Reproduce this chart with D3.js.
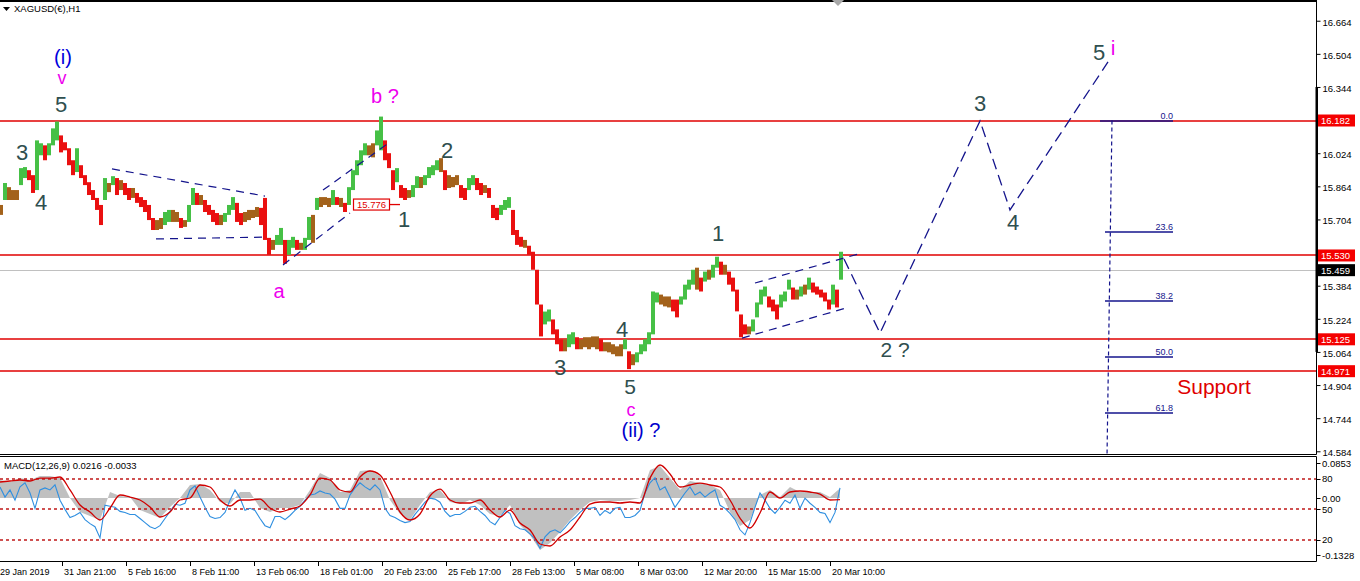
<!DOCTYPE html>
<html><head><meta charset="utf-8">
<script src="https://cdn.jsdelivr.net/npm/d3@7"></script>
<style>
body{margin:0;background:#fff;overflow:hidden}
svg{display:block;font-family:"Liberation Sans",Arial,sans-serif}
</style>
</head><body><svg id="c" width="1360" height="581"></svg>
<script>
// ---------------- DATA ----------------
const symbolTitle = "XAGUSD(€),H1";
const macdTitle = "MACD(12,26,9) 0.0216 -0.0033";
const barStepHours = 4;   // each sampled bar covers 4 hourly bars
const priceHigh = [
15.774,15.880,15.860,15.846,15.846,15.952,15.957,15.942,15.918,16.086,
16.072,16.062,16.072,16.144,16.177,16.110,16.077,16.048,15.990,16.048,
15.966,15.918,15.884,15.846,15.808,15.774,15.904,15.880,15.913,15.904,
15.894,15.880,15.856,15.856,15.832,15.812,15.798,15.774,15.711,15.701,
15.711,15.740,15.750,15.750,15.740,15.711,15.701,15.774,15.856,15.832,
15.822,15.798,15.774,15.750,15.735,15.726,15.735,15.774,15.812,15.784,
15.735,15.740,15.750,15.750,15.764,15.760,15.808,15.615,15.605,15.629,
15.663,15.605,15.605,15.620,15.605,15.591,15.615,15.716,15.726,15.808,
15.812,15.812,15.808,15.846,15.812,15.808,15.784,15.860,15.942,15.990,
16.038,16.072,16.062,16.072,16.134,16.201,16.086,16.024,15.942,15.952,
15.870,15.856,15.846,15.870,15.913,15.909,15.918,15.957,15.966,15.990,
16.000,15.942,15.918,15.909,15.918,15.870,15.856,15.904,15.918,15.904,
15.880,15.870,15.856,15.774,15.760,15.774,15.798,15.812,15.750,15.653,
15.620,15.605,15.577,15.548,15.461,15.293,15.259,15.269,15.221,15.173,
15.125,15.125,15.149,15.159,15.135,15.125,15.135,15.135,15.139,15.139,
15.125,15.111,15.111,15.101,15.091,15.101,15.125,15.067,15.053,15.062,
15.101,15.125,15.159,15.356,15.351,15.341,15.332,15.332,15.317,15.317,
15.332,15.389,15.413,15.461,15.471,15.423,15.452,15.461,15.485,15.524,
15.500,15.485,15.452,15.423,15.365,15.245,15.197,15.187,15.221,15.303,
15.365,15.380,15.332,15.317,15.293,15.341,15.356,15.413,15.375,15.365,
15.380,15.389,15.423,15.399,15.380,15.365,15.351,15.317,15.389,15.365,15.548];
const priceLow = [
15.726,15.798,15.798,15.798,15.798,15.870,15.904,15.894,15.832,15.846,
16.014,15.990,16.014,16.062,16.086,16.028,16.038,15.966,15.918,15.933,
15.904,15.870,15.822,15.798,15.750,15.677,15.798,15.836,15.870,15.822,
15.846,15.822,15.798,15.808,15.784,15.764,15.740,15.701,15.653,15.653,
15.658,15.677,15.692,15.692,15.692,15.663,15.668,15.692,15.774,15.774,
15.774,15.740,15.726,15.692,15.677,15.677,15.692,15.726,15.750,15.692,
15.677,15.692,15.701,15.711,15.716,15.677,15.605,15.533,15.557,15.581,
15.581,15.490,15.533,15.567,15.557,15.557,15.557,15.605,15.591,15.750,
15.764,15.774,15.764,15.774,15.774,15.764,15.740,15.774,15.846,15.918,
15.966,16.014,16.014,16.004,16.062,16.038,15.990,15.952,15.846,15.884,
15.808,15.798,15.808,15.812,15.856,15.856,15.870,15.904,15.918,15.942,
15.933,15.846,15.856,15.860,15.870,15.808,15.798,15.846,15.870,15.846,
15.822,15.832,15.808,15.711,15.701,15.726,15.750,15.760,15.629,15.581,
15.572,15.567,15.533,15.461,15.293,15.139,15.197,15.211,15.149,15.101,
15.067,15.067,15.087,15.101,15.077,15.077,15.087,15.077,15.087,15.077,
15.067,15.067,15.062,15.053,15.043,15.043,15.077,14.981,15.000,15.014,
15.053,15.067,15.101,15.149,15.303,15.293,15.284,15.279,15.260,15.231,
15.293,15.317,15.365,15.389,15.365,15.356,15.404,15.413,15.423,15.471,
15.437,15.437,15.389,15.356,15.260,15.135,15.149,15.149,15.163,15.231,
15.293,15.332,15.279,15.260,15.221,15.279,15.308,15.365,15.317,15.317,
15.332,15.341,15.365,15.351,15.341,15.327,15.308,15.269,15.293,15.279,15.413];
const lastPrice = 15.459;
const levelLines = [16.182, 15.530, 15.125, 14.971];
const priceTicks = [16.664,16.504,16.344,16.024,15.864,15.704,15.384,15.224,15.064,14.904,14.744,14.584];
const hourTicks = [-2,62,126,190,254,318,382,446,510,574,638,702,766,830];
const dateLabels = ["29 Jan 2019","31 Jan 21:00","5 Feb 16:00","8 Feb 11:00","13 Feb 06:00","18 Feb 01:00","20 Feb 23:00","25 Feb 17:00","28 Feb 13:00","5 Mar 08:00","8 Mar 03:00","12 Mar 20:00","15 Mar 15:00","20 Mar 10:00"];

// MACD panel (sampled every 10 hours)
const macdStepHours = 10;
const macdHist = [
0.0395,0.0351,0.0438,0.0395,0.0482,0.0482,0.0438,0.0002,-0.0303,-0.0390,
-0.0477,0.0133,0.0046,0.0024,-0.0260,-0.0347,-0.0434,-0.0194,0.0002,0.0286,
0.0307,0.0177,-0.0085,-0.0129,0.0133,0.0133,-0.0216,-0.0303,-0.0216,-0.0216,
-0.0150,0.0177,0.0547,0.0438,0.0133,0.0177,0.0591,0.0613,0.0482,-0.0041,
-0.0347,-0.0477,-0.0150,0.0133,0.0177,-0.0085,-0.0129,-0.0041,-0.0150,-0.0347,
-0.0390,-0.0150,-0.0587,-0.0805,-0.1132,-0.0979,-0.0739,-0.0477,-0.0260,-0.0085,
-0.0041,-0.0063,-0.0063,-0.0041,0.0002,0.0613,0.0700,0.0438,0.0177,0.0373,
0.0329,0.0286,0.0177,-0.0303,-0.0608,-0.0477,0.0068,0.0177,0.0024,0.0242,
0.0133,0.0133,0.0133,0.0024,0.0216];
const macdSignal = [
0.0351,0.0373,0.0395,0.0373,0.0438,0.0438,0.0460,0.0177,-0.0150,-0.0303,
-0.0477,-0.0216,0.0068,0.0024,-0.0041,-0.0194,-0.0412,-0.0303,-0.0041,0.0002,
0.0286,0.0242,-0.0041,-0.0172,-0.0041,-0.0041,-0.0020,-0.0216,-0.0303,-0.0238,
-0.0172,0.0068,0.0438,0.0395,0.0177,0.0133,0.0460,0.0591,0.0504,0.0133,
-0.0303,-0.0477,-0.0347,0.0046,0.0198,-0.0041,-0.0107,-0.0107,-0.0041,-0.0260,
-0.0412,-0.0260,-0.0543,-0.0696,-0.1001,-0.1045,-0.0848,-0.0696,-0.0412,-0.0129,
-0.0085,-0.0085,-0.0107,-0.0085,-0.0107,0.0438,0.0722,0.0526,0.0242,0.0286,
0.0329,0.0286,0.0242,-0.0041,-0.0434,-0.0652,-0.0325,0.0133,0.0002,0.0133,
0.0155,0.0133,0.0089,-0.0041,-0.0033];
// oscillator 0..100 (sampled every 5 hours)
const oscStepHours = 5;
const oscValues = [
72,62,69,59,72,76,66,51,69,71,69,74,59,50,42,44,47,40,36,33,
22,54,53,52,48,47,45,45,41,37,33,31,34,41,48,55,54,56,69,73,
62,52,43,41,42,47,59,69,61,49,51,49,41,34,32,43,43,40,44,49,
53,59,64,65,68,66,65,60,51,51,64,71,76,72,69,74,69,51,44,42,
39,37,38,45,51,57,61,60,57,48,43,45,45,48,52,53,48,44,38,35,
42,49,46,34,31,30,26,21,12,23,28,30,27,32,38,42,47,51,51,52,
44,49,46,51,52,42,42,44,49,66,76,81,69,72,62,52,59,66,72,64,
67,62,66,69,54,51,46,40,30,25,37,52,66,59,51,46,52,59,56,64,
51,61,56,52,47,46,37,47,71];
const oscLevels = [80, 50, 20];

// Fibonacci retracement
const fibTop = 16.182, fibBottom = 13.894;
const fibLevels = [0.0, 23.6, 38.2, 50.0, 61.8];

// annotations (hour, price, font size)
const waveLabels = [
 {t:"(i)",h:63,p:16.455,c:"#0000dd",s:20},
 {t:"v",h:62,p:16.360,c:"#ee00ee",s:18},
 {t:"5",h:61,p:16.223,c:"#2f4f4f",s:22},
 {t:"3",h:22,p:15.991,c:"#2f4f4f",s:22},
 {t:"4",h:41,p:15.750,c:"#2f4f4f",s:22},
 {t:"b ?",h:385,p:16.267,c:"#ee00ee",s:20},
 {t:"a",h:279,p:15.325,c:"#ee00ee",s:20},
 {t:"1",h:404,p:15.668,c:"#2f4f4f",s:22},
 {t:"2",h:447,p:16.001,c:"#2f4f4f",s:22},
 {t:"3",h:560,p:14.953,c:"#2f4f4f",s:22},
 {t:"4",h:622,p:15.136,c:"#2f4f4f",s:22},
 {t:"5",h:630,p:14.861,c:"#2f4f4f",s:21},
 {t:"c",h:631,p:14.754,c:"#ee00ee",s:18},
 {t:"(ii) ?",h:641,p:14.654,c:"#0000cc",s:20},
 {t:"1",h:718,p:15.600,c:"#2f4f4f",s:22},
 {t:"2 ?",h:895,p:15.040,c:"#2f4f4f",s:21},
 {t:"3",h:980,p:16.228,c:"#2f4f4f",s:22},
 {t:"4",h:1013,p:15.653,c:"#2f4f4f",s:22},
 {t:"5",h:1099,p:16.474,c:"#2f4f4f",s:22},
 {t:"i",h:1113,p:16.498,c:"#ee00ee",s:21},
 {t:"Support",h:1214,p:14.861,c:"#e00000",s:21}
];
const projection = [[844,15.513],[880,15.155],[980,16.180],[1010,15.750],[1108,16.465]];
const channels = [
 [[112,15.948],[265,15.817]],
 [[156,15.610],[268,15.619]],
 [[283,15.484],[350,15.735]],
 [[323,15.846],[390,16.078]],
 [[742,15.131],[846,15.276]],
 [[755,15.397],[862,15.542]]
];
const priceTag = {h0:353,h1:389,hEnd:400,p:15.776,t:"15.776"};

// ---------------- DRAW ----------------
const svg = d3.select("#c");
const right = 1316.5;
const lineRed = "#e00000";
const x = d3.scaleLinear().domain([0,1316]).range([0,1316]);
const y = d3.scaleLinear().domain([14.5709,16.7545]).range([454,2]);
const yM = d3.scaleLinear().domain([-0.1328,0.0853]).range([559,459]);
const yO = d3.scaleLinear().domain([0,100]).range([560.4,458.3]);

const defs = svg.append("defs");
defs.append("clipPath").attr("id","cm").append("rect").attr("x",0).attr("y",2).attr("width",1316).attr("height",452);
defs.append("clipPath").attr("id","cd").append("rect").attr("x",0).attr("y",457).attr("width",1316).attr("height",104);

const main = svg.append("g").attr("clip-path","url(#cm)");
const navy = "#14148c";

// level lines
levelLines.forEach(v=>{
  const yy = Math.round(y(v));
  main.append("line").attr("x1",0).attr("x2",right).attr("y1",yy).attr("y2",yy)
    .style("stroke",lineRed).style("stroke-width","1.4px");
});
main.append("line").attr("x1",0).attr("x2",right)
  .attr("y1",Math.round(y(lastPrice))+0.5).attr("y2",Math.round(y(lastPrice))+0.5)
  .style("stroke","#c0c0c0");

// bars
const bars = priceHigh.map((hi,i)=>({h:barStepHours*i+1, hi, lo:priceLow[i]}));
bars.forEach((b,i)=>{
  const m=(b.hi+b.lo)/2, pm=i?(bars[i-1].hi+bars[i-1].lo)/2:m, d=m-pm;
  b.c = d>0.011?"#46c046":(d<-0.011?"#ea1010":"#a3621b");
});
main.selectAll("rect.bar").data(bars).join("rect")
  .attr("x",d=>x(d.h)-2).attr("width",4)
  .attr("y",d=>y(d.hi)).attr("height",d=>Math.max(1.5,y(d.lo)-y(d.hi)))
  .attr("fill",d=>d.c);

// channels
const ln = d3.line().x(d=>x(d[0])).y(d=>y(d[1]));
main.selectAll("path.ch").data(channels).join("path")
  .attr("d",ln).attr("fill","none").attr("stroke",navy).attr("stroke-width",1.2)
  .attr("stroke-dasharray","8,6");
main.append("path").datum(projection).attr("d",ln).attr("fill","none")
  .attr("stroke",navy).attr("stroke-width",1.3).attr("stroke-dasharray","11,6");

// price tag 15.776
const pt = main.append("g");
pt.append("line").attr("x1",x(priceTag.h1)).attr("x2",x(priceTag.hEnd))
  .attr("y1",y(priceTag.p)).attr("y2",y(priceTag.p)).style("stroke",lineRed).style("stroke-width","1.3px");
pt.append("rect").attr("x",x(priceTag.h0)+0.5).attr("y",y(priceTag.p)-5.5)
  .attr("width",x(priceTag.h1)-x(priceTag.h0)).attr("height",11)
  .attr("fill","#fff").style("stroke",lineRed).style("stroke-width","1.2px");
pt.append("text").attr("x",(x(priceTag.h0)+x(priceTag.h1))/2+0.5).attr("y",y(priceTag.p)+3.5)
  .attr("text-anchor","middle").attr("font-size","9.5px").attr("fill",lineRed).text(priceTag.t);

// fib
const fibP = l => fibTop-(fibTop-fibBottom)*l/100;
const fg = svg.append("g");
fg.append("line").attr("x1",x(1112)).attr("y1",y(fibTop)).attr("x2",x(1107)).attr("y2",457)
  .attr("stroke",navy).attr("stroke-width",1.2).attr("stroke-dasharray","4,3");
fg.selectAll("line.f").data(fibLevels).join("line")
  .attr("x1",d=>d===0?x(1100):x(1105)).attr("x2",x(1173))
  .attr("y1",d=>Math.round(y(fibP(d)))).attr("y2",d=>Math.round(y(fibP(d))))
  .attr("stroke",navy).attr("stroke-width",1.3);
fg.selectAll("text").data(fibLevels).join("text")
  .attr("x",x(1173)).attr("y",d=>Math.round(y(fibP(d)))-2)
  .attr("text-anchor","end").attr("font-size","9px").attr("fill",navy)
  .text(d=>d.toFixed(1));

// wave labels
svg.append("g").selectAll("text").data(waveLabels).join("text")
  .attr("x",d=>x(d.h)).attr("y",d=>y(d.p)).attr("text-anchor","middle")
  .attr("font-size",d=>d.s+"px").attr("fill",d=>d.c).text(d=>d.t);

// borders
svg.append("line").attr("x1",0).attr("x2",right).attr("y1",1).attr("y2",1).attr("stroke","#000").attr("stroke-width",2);
svg.append("path").attr("d","M832,0 L844,0 L838,6 Z").attr("fill","#a8a8a8");
svg.append("line").attr("x1",0).attr("x2",right).attr("y1",454.5).attr("y2",454.5).attr("stroke","#000");
svg.append("line").attr("x1",0).attr("x2",right).attr("y1",456.5).attr("y2",456.5).attr("stroke","#000");
svg.append("line").attr("x1",0).attr("x2",right).attr("y1",561.5).attr("y2",561.5).attr("stroke","#000");
svg.append("line").attr("x1",right).attr("x2",right).attr("y1",0).attr("y2",454.5).attr("stroke","#000");
svg.append("line").attr("x1",right).attr("x2",right).attr("y1",456.5).attr("y2",561.5).attr("stroke","#000");
svg.append("rect").attr("x",1315.5).attr("y",y(16.344)).attr("width",2.5).attr("height",y(15.064)-y(16.344)).attr("fill","#000");

// right price axis
const ax = svg.append("g").attr("transform",`translate(${right},0)`)
  .call(d3.axisRight(y).tickValues(priceTicks).tickSize(4).tickFormat(d3.format(".3f")));
ax.select(".domain").remove();
ax.selectAll("text").attr("font-size","9.5px").attr("font-family","Liberation Sans, Arial").attr("fill","#000").attr("x",6).attr("dy","0.45em");

// value tags on axis
const tags = levelLines.map(v=>({v,bg:"#f40000"})).concat([{v:lastPrice,bg:"#000"}]);
const tg = svg.append("g");
tg.selectAll("rect").data(tags).join("rect")
  .attr("x",1318).attr("y",d=>y(d.v)-6).attr("width",37).attr("height",12).attr("fill",d=>d.bg);
tg.selectAll("text").data(tags).join("text")
  .attr("x",1321).attr("y",d=>y(d.v)+3.5).attr("font-size","9.5px").attr("fill","#fff")
  .text(d=>d.v.toFixed(3));

// title
svg.append("path").attr("d","M3,7 L10,7 L6.5,11 Z").attr("fill","#000");
svg.append("text").attr("x",14).attr("y",12).attr("font-size","9.5px").attr("fill","#000").text(symbolTitle);

// ---------------- MACD panel ----------------
const md = svg.append("g").attr("clip-path","url(#cd)");
const histData = macdHist.map((v,i)=>({h:i*macdStepHours,v}));
md.append("path").datum(histData)
  .attr("d",d3.area().x(d=>x(d.h)).y0(yM(0)).y1(d=>yM(d.v)))
  .attr("fill","#c0c0c0");
oscLevels.forEach(v=>{
  const yy = Math.round(yO(v));
  md.append("line").attr("x1",0).attr("x2",right).attr("y1",yy).attr("y2",yy)
    .style("stroke","#c01818").style("stroke-width","1.4px").attr("stroke-dasharray","3,3");
});
md.append("path").datum(oscValues.map((v,i)=>({h:i*oscStepHours,v})))
  .attr("d",d3.line().x(d=>x(d.h)).y(d=>yO(d.v)))
  .attr("fill","none").attr("stroke","#2f8fe0").attr("stroke-width",1.1);
md.append("path").datum(macdSignal.map((v,i)=>({h:i*macdStepHours,v})))
  .attr("d",d3.line().curve(d3.curveMonotoneX).x(d=>x(d.h)).y(d=>yM(d.v)))
  .attr("fill","none").attr("stroke","#d00000").attr("stroke-width",1.3);
svg.append("text").attr("x",4).attr("y",469).attr("font-size","9.5px").attr("fill","#000").text(macdTitle);

// MACD axis labels
const mlab = [
 {t:"0.0853",yy:yM(0.0853)+4},{t:"80",yy:yO(80)},{t:"0.00",yy:yM(0)},
 {t:"50",yy:yO(50)},{t:"20",yy:yO(20)},{t:"-0.1328",yy:yM(-0.1328)-4}];
const mg = svg.append("g");
mg.selectAll("line").data(mlab).join("line").attr("x1",right).attr("x2",right+4)
  .attr("y1",d=>Math.round(d.yy)+0.5).attr("y2",d=>Math.round(d.yy)+0.5).attr("stroke","#000");
mg.selectAll("text").data(mlab).join("text").attr("x",1322).attr("y",d=>d.yy+3.5)
  .attr("font-size","9.5px").attr("fill","#000").text(d=>d.t);

// date axis
const dg = svg.append("g");
dg.selectAll("line").data(hourTicks).join("line")
  .attr("x1",d=>Math.round(x(d))+0.5).attr("x2",d=>Math.round(x(d))+0.5).attr("y1",562).attr("y2",566).attr("stroke","#000");
dg.selectAll("text").data(hourTicks).join("text")
  .attr("x",d=>Math.max(0,x(d)+2)).attr("y",575).attr("font-size","9px").attr("fill","#000")
  .text((d,i)=>dateLabels[i]);
</script>
</body></html>
